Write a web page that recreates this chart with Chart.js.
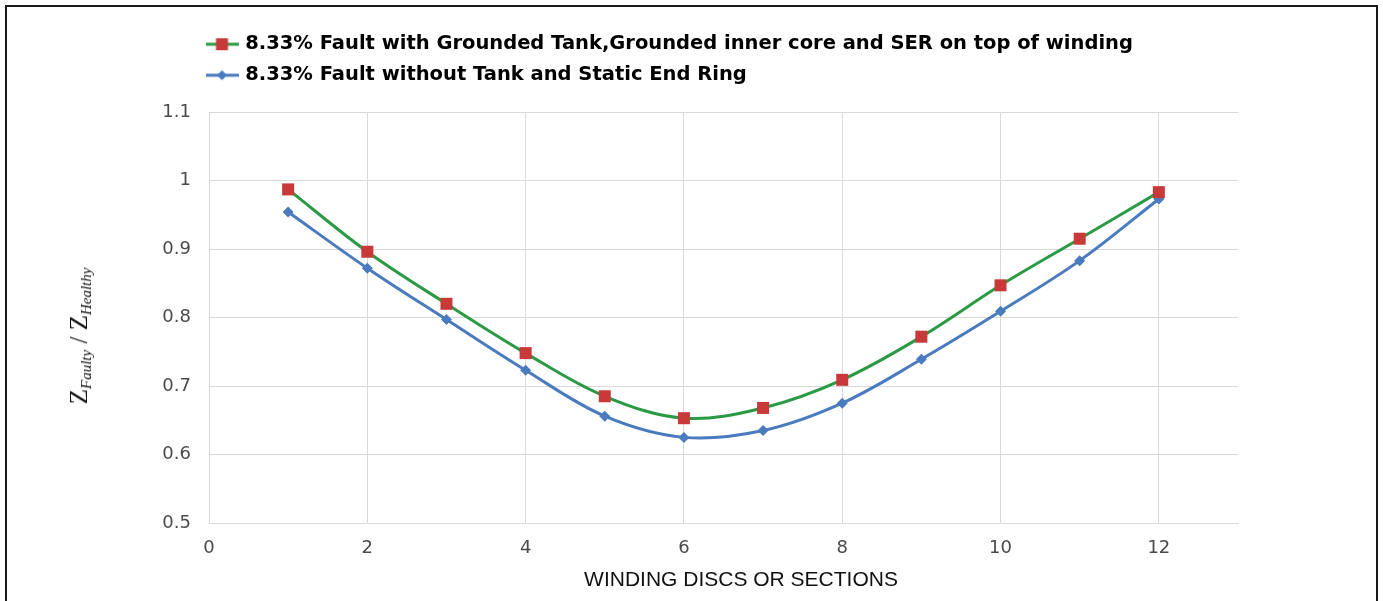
<!DOCTYPE html>
<html>
<head>
<meta charset="utf-8">
<script src="https://cdn.jsdelivr.net/npm/chart.js@4.4.1/dist/chart.umd.min.js"></script>
<style>
  html, body { margin: 0; padding: 0; background: #fff; overflow: hidden; }
  #wrap { position: relative; width: 1383px; height: 601px; }
  #frame { position: absolute; left: 5px; top: 5px; width: 1373px; height: 640px; border: 2px solid #1a1a1a; box-sizing: border-box; pointer-events: none; }
  #ytitle { position: absolute; left: 80px; top: 336px; transform: translate(-50%, -50%) rotate(-90deg);
            font-family: "Liberation Serif", "Times New Roman", serif; font-size: 25px; white-space: nowrap; color: #111; }
  #ytitle sub { font-style: italic; font-size: 15px; vertical-align: -4px; }
  #xtitle { position: absolute; left: 741px; top: 568px; transform: translateX(-50%);
            font-family: "Liberation Sans", Arial, sans-serif; font-size: 21px; line-height: 21px; white-space: nowrap; color: #111; }
</style>
</head>
<body>
<div id="wrap">
  <canvas id="impChart"></canvas>
  <div id="ytitle">Z<sub>Faulty</sub> / Z<sub>Healthy</sub></div>
  <div id="xtitle">WINDING DISCS OR SECTIONS</div>
  <div id="frame"></div>
</div>
<script>
// ==================== DATA ====================
const sections = [1, 2, 3, 4, 5, 6, 7, 8, 9, 10, 11, 12];

const groundedTank = [0.987, 0.896, 0.820, 0.748, 0.685, 0.653, 0.668, 0.709, 0.772, 0.847, 0.915, 0.983];
const withoutTank  = [0.954, 0.872, 0.797, 0.723, 0.656, 0.625, 0.635, 0.675, 0.739, 0.809, 0.883, 0.973];

const seriesNames = [
    "8.33% Fault with Grounded Tank,Grounded inner core and SER on top of winding",
    "8.33% Fault without Tank and Static End Ring"
];

const xTicks = [0, 2, 4, 6, 8, 10, 12];
const yTicks = [0.5, 0.6, 0.7, 0.8, 0.9, 1, 1.1];

// ==================== HELPERS ====================
const GREEN = "#2a9a44", RED = "#c8393a", BLUE = "#4a7bbf", GRID = "#d9d9d9";

function legendSwatch(lineColor, fill, shape){
    const c = document.createElement("canvas");
    c.width = 33; c.height = 14;
    const g = c.getContext("2d");
    g.strokeStyle = lineColor; g.lineWidth = 3;
    g.beginPath(); g.moveTo(0, 7); g.lineTo(33, 7); g.stroke();
    g.fillStyle = fill;
    if(shape === "square"){
        g.fillRect(10.5, 1, 12, 12);
    } else {
        g.beginPath();
        g.moveTo(16.5, 2); g.lineTo(21.5, 7); g.lineTo(16.5, 12); g.lineTo(11.5, 7);
        g.closePath(); g.fill();
    }
    return c;
}

function points(vals){
    return sections.map((s, i) => ({ x: s, y: vals[i] }));
}

// move the legend block to where the original sits
const legendSpot = {
    id: "legendSpot",
    afterLayout(chart){
        const lg = chart.legend;
        const w = lg.width, h = lg.height;
        lg.left = 197; lg.top = 23;
        lg.right = lg.left + w; lg.bottom = lg.top + h;
    }
};

// ==================== CHART ====================
const ctx = document.getElementById("impChart").getContext("2d");
const chart = new Chart(ctx, {
    type: "line",
    data: {
        datasets: [{
            label: seriesNames[0],
            data: points(groundedTank),
            borderColor: GREEN,
            borderWidth: 3,
            pointStyle: "rect",
            pointRadius: 8.5,
            pointBackgroundColor: RED,
            pointBorderColor: RED,
            pointBorderWidth: 0,
            tension: 0.35,
            legendImg: legendSwatch(GREEN, RED, "square")
        }, {
            label: seriesNames[1],
            data: points(withoutTank),
            borderColor: BLUE,
            borderWidth: 3,
            pointStyle: "rectRot",
            pointRadius: 5.5,
            pointBackgroundColor: BLUE,
            pointBorderColor: BLUE,
            pointBorderWidth: 0,
            tension: 0.35,
            legendImg: legendSwatch(BLUE, BLUE, "diamond")
        }]
    },
    options: {
        responsive: true,
        maintainAspectRatio: false,
        animation: false,
        layout: { padding: { top: 40, left: 0, right: 145, bottom: 0 } },
        plugins: {
            tooltip: { enabled: false },
            legend: {
                display: true,
                position: "top",
                align: "start",
                labels: {
                    usePointStyle: true,
                    pointStyleWidth: 27,
                    padding: 11.5,
                    color: "#1a1a1a",
                    font: { family: "'DejaVu Sans'", size: 19.5, weight: "bold" },
                    generateLabels(chart){
                        return chart.data.datasets.map((ds, i) => ({
                            text: ds.label,
                            pointStyle: ds.legendImg,
                            fillStyle: ds.borderColor,
                            strokeStyle: ds.borderColor,
                            lineWidth: 0,
                            hidden: false,
                            datasetIndex: i
                        }));
                    }
                }
            }
        },
        scales: {
            x: {
                type: "linear",
                min: 0,
                max: 13,
                afterBuildTicks: s => { s.ticks = xTicks.map(v => ({ value: v })); },
                afterFit: s => { s.height = 78; },
                grid: { color: GRID, drawTicks: false },
                border: { color: GRID },
                ticks: {
                    padding: 15,
                    color: "#4a4a4a",
                    font: { family: "'DejaVu Sans'", size: 18 }
                }
            },
            y: {
                min: 0.5,
                max: 1.1,
                afterBuildTicks: s => { s.ticks = yTicks.map(v => ({ value: v })); },
                afterFit: s => { s.width = 209; },
                grid: { color: GRID, drawTicks: false },
                border: { color: GRID },
                ticks: {
                    padding: 18,
                    color: "#4a4a4a",
                    font: { family: "'DejaVu Sans'", size: 18 },
                    callback: v => String(Math.round(v * 10) / 10)
                }
            }
        }
    },
    plugins: [legendSpot]
});
</script>
</body>
</html>
